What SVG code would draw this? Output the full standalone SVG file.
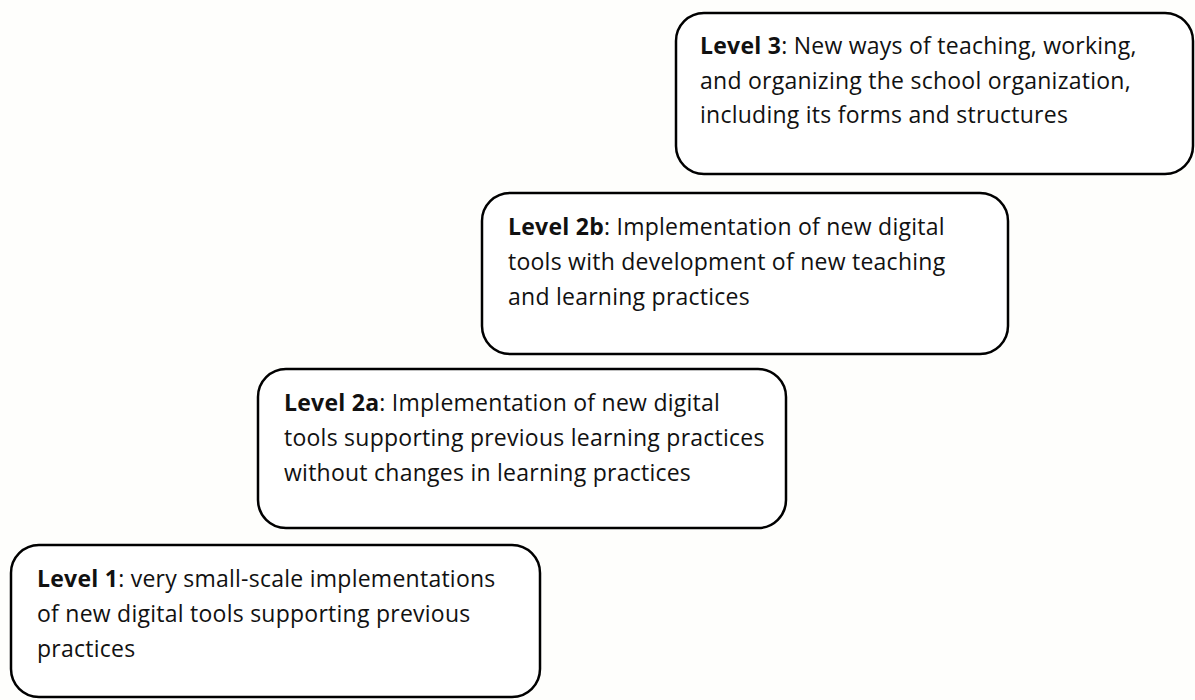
<svg xmlns="http://www.w3.org/2000/svg" width="1195" height="700" viewBox="0 0 1195 700">
  <style>
    .box { fill: #ffffff; stroke: #000000; stroke-width: 2.5; }
    .txt { font-family: "Open Sans", "Liberation Sans", sans-serif; font-size: 23px; letter-spacing: 0.25px; fill: #111111; }
    .b { font-weight: bold; }
  </style>
  <rect width="1195" height="700" fill="#fefefc"/>

  <!-- Level 3 (top step) -->
  <g id="level3">
    <rect class="box" x="676" y="13" width="517" height="161" rx="28"/>
    <text class="txt" x="700" y="54"><tspan class="b">Level 3</tspan>: New ways of teaching, working,</text>
    <text class="txt" x="700" y="89">and organizing the school organization,</text>
    <text class="txt" x="700" y="123">including its forms and structures</text>
  </g>

  <!-- Level 2b -->
  <g id="level2b">
    <rect class="box" x="482" y="193" width="526" height="161" rx="28"/>
    <text class="txt" x="508" y="235"><tspan class="b">Level 2b</tspan>: Implementation of new digital</text>
    <text class="txt" x="508" y="270">tools with development of new teaching</text>
    <text class="txt" x="508" y="305">and learning practices</text>
  </g>

  <!-- Level 2a -->
  <g id="level2a">
    <rect class="box" x="258" y="369" width="528" height="159" rx="28"/>
    <text class="txt" x="284" y="411"><tspan class="b">Level 2a</tspan>: Implementation of new digital</text>
    <text class="txt" x="284" y="446">tools supporting previous learning practices</text>
    <text class="txt" x="284" y="481">without changes in learning practices</text>
  </g>

  <!-- Level 1 (bottom step) -->
  <g id="level1">
    <rect class="box" x="11" y="545" width="529" height="152" rx="28"/>
    <text class="txt" x="37" y="587"><tspan class="b">Level 1</tspan>: very small-scale implementations</text>
    <text class="txt" x="37" y="622">of new digital tools supporting previous</text>
    <text class="txt" x="37" y="657">practices</text>
  </g>

  <g id="connectors"/>
</svg>
